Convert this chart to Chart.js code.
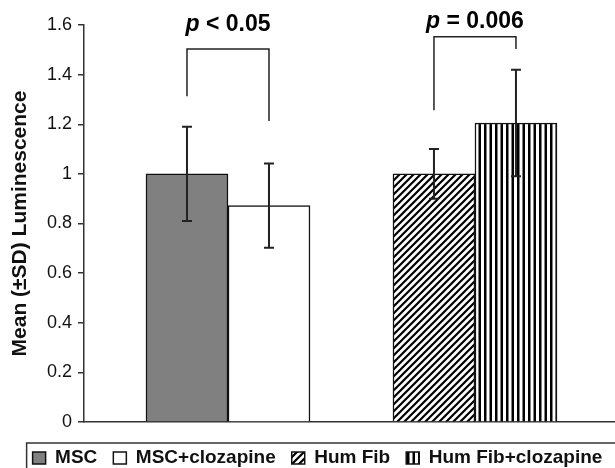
<!DOCTYPE html>
<html>
<head>
<meta charset="utf-8">
<script src="https://cdn.jsdelivr.net/npm/chart.js@4.4.0/dist/chart.umd.min.js"></script>
<style>
  html, body { margin: 0; padding: 0; background: #fff; }
</style>
</head>
<body>
<canvas id="lumChart" width="615" height="468"></canvas>
<script>
// group positions on the x axis (MSC group, Hum Fib group)
const groupPos = [1, 2];
const seriesNames = ['MSC', 'MSC+clozapine', 'Hum Fib', 'Hum Fib+clozapine'];

// means and SDs
const meanMSC = [1.0, null];
const meanMSCCloz = [0.872, null];
const meanHumFib = [null, 1.0];
const meanHumFibCloz = [null, 1.205];

const sdMSC = [0.19, null];
const sdMSCCloz = [0.17, null];
const sdHumFib = [null, 0.10];
const sdHumFibCloz = [null, 0.215];

const yTicks = [0, 0.2, 0.4, 0.6, 0.8, 1.0, 1.2, 1.4, 1.6];

// significance brackets, one per group
const pLabels = ['< 0.05', '= 0.006'];
const pLabelY = [1.60, 1.613];
const bracketTop = [1.503, 1.553];
const bracketLeftEnd = [1.313, 1.256];
const bracketRightEnd = [1.213, 1.503];

const FONT = "'Liberation Sans', Arial, sans-serif";
Chart.defaults.font.family = FONT;
Chart.defaults.color = '#111';

function makeDiagonal() {
    const c = document.createElement('canvas');
    c.width = 7; c.height = 7;
    const g = c.getContext('2d');
    g.fillStyle = '#fff';
    g.fillRect(0, 0, 7, 7);
    g.strokeStyle = '#000';
    g.lineWidth = 2.2;
    g.beginPath();
    g.moveTo(-1, 8); g.lineTo(8, -1);
    g.moveTo(-4.5, 4.5); g.lineTo(4.5, -4.5);
    g.moveTo(2.5, 11.5); g.lineTo(11.5, 2.5);
    g.stroke();
    return g.createPattern(c, 'repeat');
}

function makeVertical() {
    const c = document.createElement('canvas');
    c.width = 11; c.height = 4;
    const g = c.getContext('2d');
    g.fillStyle = '#fff';
    g.fillRect(0, 0, 11, 4);
    g.fillStyle = '#000';
    g.fillRect(0, 0, 2.5, 4);
    g.fillRect(5.5, 0, 2.5, 4);
    return g.createPattern(c, 'repeat');
}

const toPoints = arr => arr.map((v, i) => ({ x: groupPos[i], y: v }));

const means = [meanMSC, meanMSCCloz, meanHumFib, meanHumFibCloz];
const sds = [sdMSC, sdMSCCloz, sdHumFib, sdHumFibCloz];
const fills = ['#808080', '#ffffff', makeDiagonal(), makeVertical()];

// error bars with caps
const errorBars = {
    id: 'errorBars',
    afterDatasetsDraw(chart) {
        const ctx = chart.ctx;
        const y = chart.scales.y;
        ctx.save();
        ctx.strokeStyle = '#222';
        ctx.lineWidth = 2;
        means.forEach((m, i) => {
            const meta = chart.getDatasetMeta(i);
            m.forEach((v, j) => {
                if (v === null) return;
                const x = meta.data[j].x;
                const top = y.getPixelForValue(v + sds[i][j]);
                const bot = y.getPixelForValue(v - sds[i][j]);
                ctx.beginPath();
                ctx.moveTo(x, top); ctx.lineTo(x, bot);
                ctx.moveTo(x - 5, top); ctx.lineTo(x + 5, top);
                ctx.moveTo(x - 5, bot); ctx.lineTo(x + 5, bot);
                ctx.stroke();
            });
        });
        ctx.restore();
    }
};

// p-value brackets above each group
const brackets = {
    id: 'brackets',
    afterDatasetsDraw(chart) {
        const ctx = chart.ctx;
        const y = chart.scales.y;
        ctx.save();
        groupPos.forEach((g, j) => {
            const xs = [];
            means.forEach((m, i) => {
                if (m[j] !== null) xs.push(chart.getDatasetMeta(i).data[j].x);
            });
            const xl = xs[0], xr = xs[1];
            ctx.strokeStyle = '#222';
            ctx.lineWidth = 1.5;
            ctx.beginPath();
            ctx.moveTo(xl, y.getPixelForValue(bracketLeftEnd[j]));
            ctx.lineTo(xl, y.getPixelForValue(bracketTop[j]));
            ctx.lineTo(xr, y.getPixelForValue(bracketTop[j]));
            ctx.lineTo(xr, y.getPixelForValue(bracketRightEnd[j]));
            ctx.stroke();

            const italic = 'italic bold 23px ' + FONT;
            const bold = 'bold 23px ' + FONT;
            const rest = ' ' + pLabels[j];
            ctx.font = italic;
            const w1 = ctx.measureText('p').width;
            ctx.font = bold;
            const w2 = ctx.measureText(rest).width;
            const cx = (xl + xr) / 2;
            const ty = y.getPixelForValue(pLabelY[j]);
            ctx.fillStyle = '#000';
            ctx.textBaseline = 'middle';
            ctx.textAlign = 'left';
            ctx.font = italic;
            ctx.fillText('p', cx - (w1 + w2) / 2, ty);
            ctx.font = bold;
            ctx.fillText(rest, cx - (w1 + w2) / 2 + w1, ty);
        });
        ctx.restore();
    }
};

// nudge the legend and draw its frame
const legendFrame = {
    id: 'legendFrame',
    afterLayout(chart) {
        const lg = chart.legend;
        lg.left += 10; lg.right += 10;
        lg.top += 9.5; lg.bottom += 9.5;
    },
    afterDraw(chart) {
        const hb = chart.legend.legendHitBoxes;
        if (!hb || !hb.length) return;
        const ctx = chart.ctx;
        const left = hb[0].left - 6;
        const top = hb[0].top + hb[0].height / 2 - 15;
        ctx.save();
        ctx.strokeStyle = '#333';
        ctx.lineWidth = 1.5;
        ctx.strokeRect(left, top, chart.width - left + 10, 100);
        ctx.restore();
    }
};

new Chart(document.getElementById('lumChart'), {
    type: 'bar',
    data: {
        datasets: seriesNames.map((name, i) => ({
            label: name,
            data: toPoints(means[i]),
            backgroundColor: fills[i],
            borderColor: '#111',
            borderWidth: 1.5,
            barThickness: 82
        }))
    },
    options: {
        responsive: false,
        animation: false,
        skipNull: true,
        layout: { padding: { top: 25, left: 0, right: 0, bottom: 0 } },
        scales: {
            x: {
                type: 'linear',
                offset: false,
                bounds: 'data',
                grace: 0,
                min: 0.417,
                max: 2.567,
                grid: { display: false, offset: false },
                ticks: { display: false },
                border: { display: true, color: '#333', width: 1.5 },
                afterFit: s => { s.height = 1; }
            },
            y: {
                min: 0,
                max: 1.6,
                afterBuildTicks: s => { s.ticks = yTicks.map(v => ({ value: v })); },
                afterFit: s => { s.width = 84; },
                grid: {
                    drawOnChartArea: false,
                    drawTicks: true,
                    tickLength: 6,
                    color: '#333',
                    lineWidth: 1.5
                },
                border: { display: true, color: '#333', width: 1.5 },
                ticks: {
                    padding: 6,
                    color: '#111',
                    font: { size: 18 },
                    callback: v => String(v)
                },
                title: {
                    display: true,
                    text: 'Mean (±SD) Luminescence',
                    color: '#111',
                    font: { size: 21, weight: 'bold' },
                    padding: { top: 8, bottom: 0 }
                }
            }
        },
        plugins: {
            legend: {
                position: 'bottom',
                labels: {
                    boxWidth: 13,
                    boxHeight: 12,
                    padding: 16,
                    color: '#111',
                    font: { size: 19, weight: 'bold' }
                }
            },
            tooltip: { enabled: false }
        }
    },
    plugins: [errorBars, brackets, legendFrame]
});
</script>
</body>
</html>
